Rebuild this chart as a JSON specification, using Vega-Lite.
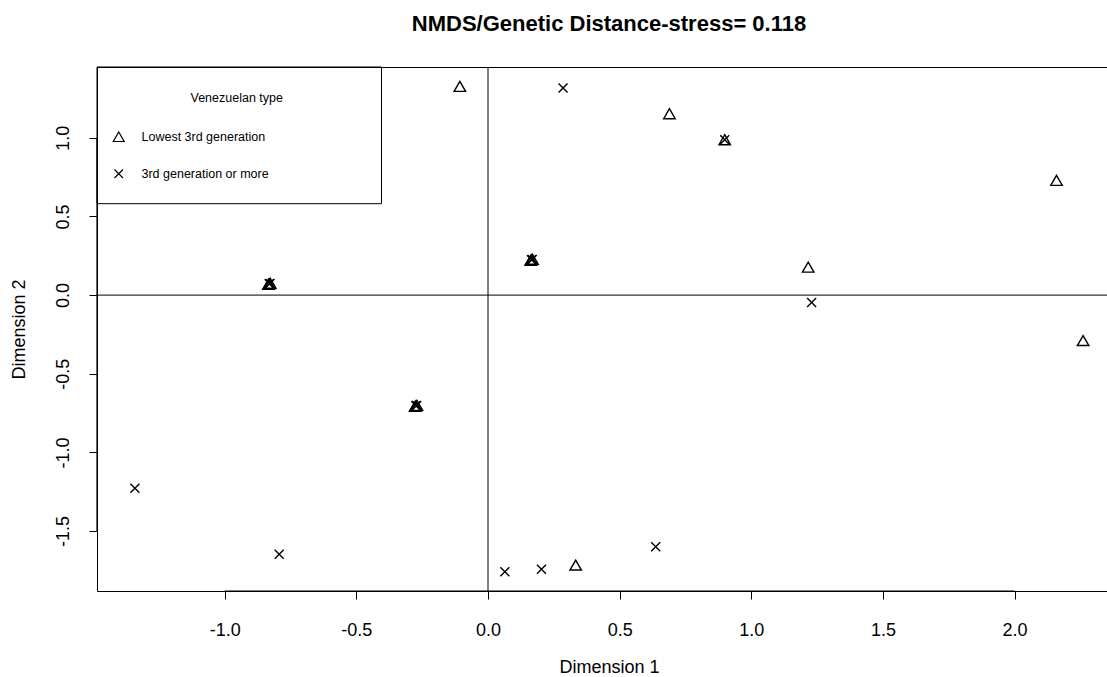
{
  "$schema": "https://vega.github.io/schema/vega-lite/v6.json",
  "autosize": {"type": "none"},
  "padding": {"left": 97, "top": 67, "right": 0, "bottom": 86},
  "width": 1024,
  "height": 524,
  "background": "white",
  "title": {"text": "NMDS/Genetic Distance-stress= 0.118", "font": "Liberation Sans", "fontSize": 22, "fontWeight": "bold", "color": "black", "anchor": "middle", "offset": 31},
  "config": {"view": {"stroke": "black", "strokeWidth": 1}},
  "layer": [
    {
      "data": {"values": [{}]},
      "mark": {"type": "rect", "fill": "transparent", "stroke": "black", "strokeWidth": 1},
      "encoding": {
        "x": {"datum": -1.485, "type": "quantitative"},
        "x2": {"datum": -0.4045},
        "y": {"datum": 0.581, "type": "quantitative"},
        "y2": {"datum": 1.45}
      }
    },
    {
      "data": {"values": [{}]},
      "mark": {"type": "rule", "color": "black", "strokeWidth": 1},
      "encoding": {"y": {"datum": 0, "type": "quantitative"}}
    },
    {
      "data": {"values": [{}]},
      "mark": {"type": "rule", "color": "black", "strokeWidth": 1},
      "encoding": {"x": {"datum": 0, "type": "quantitative"}}
    },
    {
      "data": {"values": [{}]},
      "mark": {"type": "rule", "color": "black", "strokeWidth": 1.2},
      "encoding": {"x": {"datum": -1, "type": "quantitative"}, "x2": {"datum": 2}, "y": {"datum": -1.881, "type": "quantitative"}}
    },
    {
      "data": {"values": [{}]},
      "mark": {"type": "rule", "color": "black", "strokeWidth": 1.2},
      "encoding": {"y": {"datum": -1.5, "type": "quantitative"}, "y2": {"datum": 1}, "x": {"datum": -1.485, "type": "quantitative"}}
    },
    {
      "data": {"values": [
        {"x": -0.107, "y": 1.327, "type": "Lowest 3rd generation"},
        {"x": 0.689, "y": 1.153, "type": "Lowest 3rd generation"},
        {"x": 0.899, "y": 0.988, "type": "Lowest 3rd generation"},
        {"x": 2.159, "y": 0.729, "type": "Lowest 3rd generation"},
        {"x": 1.216, "y": 0.178, "type": "Lowest 3rd generation"},
        {"x": 2.26, "y": -0.289, "type": "Lowest 3rd generation"},
        {"x": 0.333, "y": -1.716, "type": "Lowest 3rd generation"},
        {"x": -0.831, "y": 0.072, "type": "Lowest 3rd generation"},
        {"x": -0.827, "y": 0.075, "type": "Lowest 3rd generation"},
        {"x": -0.834, "y": 0.069, "type": "Lowest 3rd generation"},
        {"x": 0.165, "y": 0.225, "type": "Lowest 3rd generation"},
        {"x": 0.169, "y": 0.228, "type": "Lowest 3rd generation"},
        {"x": 0.162, "y": 0.221, "type": "Lowest 3rd generation"},
        {"x": -0.274, "y": -0.704, "type": "Lowest 3rd generation"},
        {"x": -0.27, "y": -0.701, "type": "Lowest 3rd generation"},
        {"x": -0.277, "y": -0.707, "type": "Lowest 3rd generation"},
        {"x": 0.285, "y": 1.317, "type": "3rd generation or more"},
        {"x": 0.899, "y": 0.988, "type": "3rd generation or more"},
        {"x": 1.229, "y": -0.047, "type": "3rd generation or more"},
        {"x": -1.341, "y": -1.228, "type": "3rd generation or more"},
        {"x": -0.793, "y": -1.648, "type": "3rd generation or more"},
        {"x": 0.064, "y": -1.758, "type": "3rd generation or more"},
        {"x": 0.203, "y": -1.743, "type": "3rd generation or more"},
        {"x": 0.637, "y": -1.599, "type": "3rd generation or more"},
        {"x": -0.831, "y": 0.072, "type": "3rd generation or more"},
        {"x": -0.828, "y": 0.074, "type": "3rd generation or more"},
        {"x": 0.165, "y": 0.225, "type": "3rd generation or more"},
        {"x": 0.168, "y": 0.227, "type": "3rd generation or more"},
        {"x": -0.274, "y": -0.704, "type": "3rd generation or more"},
        {"x": -0.271, "y": -0.702, "type": "3rd generation or more"}
      ]},
      "mark": {"type": "point", "filled": false, "stroke": "black", "strokeWidth": 1.4, "size": 100, "opacity": 1},
      "encoding": {
        "x": {
          "field": "x", "type": "quantitative",
          "scale": {"domain": [-1.485, 2.404], "nice": false, "zero": false},
          "axis": {
            "title": "Dimension 1", "values": [-1, -0.5, 0, 0.5, 1, 1.5, 2],
            "labelExpr": "datum.value < 0 ? '-' + format(-datum.value, '.1f') : format(datum.value, '.1f')",
            "grid": false, "domain": false, "tickSize": 8, "tickColor": "black", "tickWidth": 1,
            "labelPadding": 22, "labelFont": "Liberation Sans", "labelFontSize": 18, "labelColor": "black",
            "labelFlush": false, "labelOverlap": false,
            "titleFont": "Liberation Sans", "titleFontSize": 18, "titleFontWeight": "normal", "titleColor": "black",
            "titleY": 76, "titleBaseline": "middle"
          }
        },
        "y": {
          "field": "y", "type": "quantitative",
          "scale": {"domain": [-1.881, 1.45], "nice": false, "zero": false},
          "axis": {
            "title": "Dimension 2", "values": [-1.5, -1, -0.5, 0, 0.5, 1],
            "labelExpr": "datum.value < 0 ? '-' + format(-datum.value, '.1f') : format(datum.value, '.1f')",
            "grid": false, "domain": false, "tickSize": 8, "tickColor": "black", "tickWidth": 1,
            "labelAngle": 270, "labelAlign": "center", "labelBaseline": "middle", "labelPadding": 26,
            "labelFont": "Liberation Sans", "labelFontSize": 18, "labelColor": "black",
            "labelFlush": false, "labelOverlap": false,
            "titleFont": "Liberation Sans", "titleFontSize": 18, "titleFontWeight": "normal", "titleColor": "black",
            "titleX": -78, "titleY": 262, "titleAngle": 270, "titleBaseline": "middle", "titleAlign": "center"
          }
        },
        "shape": {
          "field": "type", "type": "nominal",
          "scale": {"domain": ["Lowest 3rd generation", "3rd generation or more"], "range": ["M0,-1L1.15,1L-1.15,1Z", "M-0.9,-0.9L0.9,0.9M-0.9,0.9L0.9,-0.9"]},
          "legend": {
            "title": "Venezuelan type", "orient": "none", "legendX": 15.5, "legendY": 25, "padding": 0,
            "titleFont": "Liberation Sans", "titleFontSize": 12.5, "titleFontWeight": "normal", "titleColor": "black",
            "titleAnchor": "middle", "titleAlign": "left", "titleBaseline": "top", "titlePadding": 26,
            "labelFont": "Liberation Sans", "labelFontSize": 12.5, "labelColor": "black", "labelOffset": 16.5,
            "rowPadding": 22, "symbolSize": 90, "symbolStrokeColor": "black", "symbolStrokeWidth": 1.2, "symbolFillColor": "transparent"
          }
        }
      }
    }
  ]
}
